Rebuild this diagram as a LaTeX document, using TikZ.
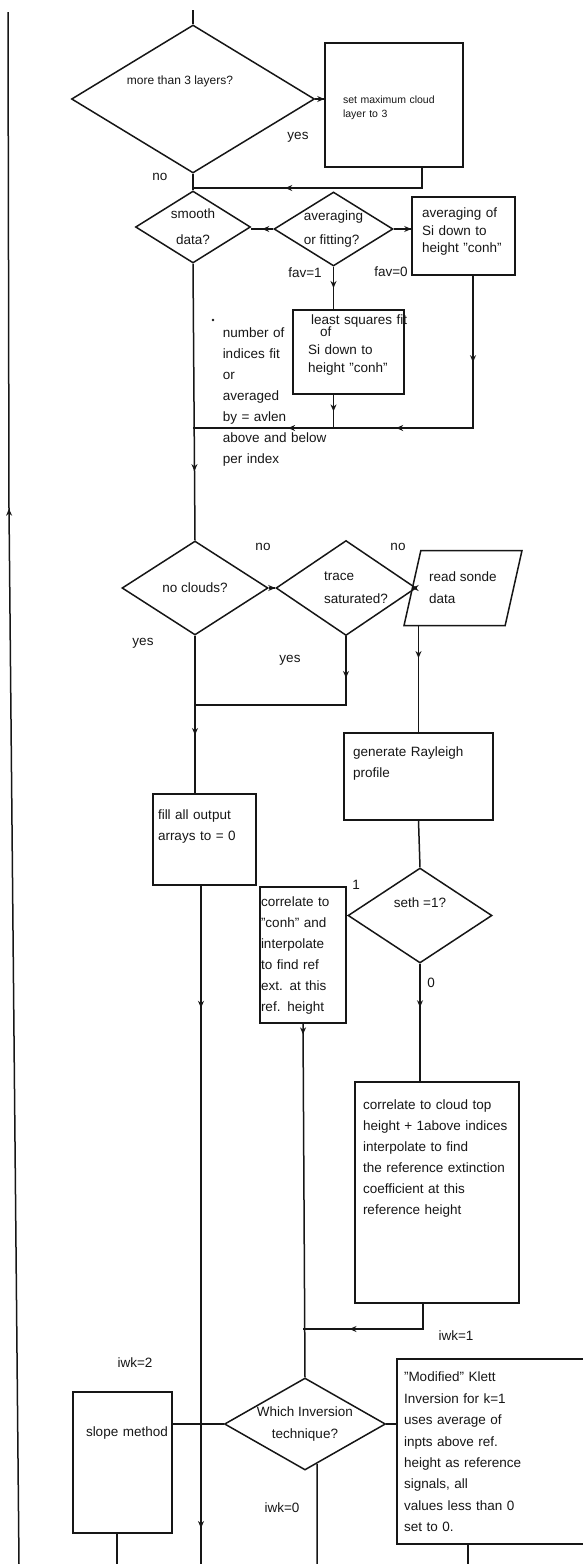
\documentclass[tikz,border=0pt]{standalone}
\usepackage{fontspec}
\setmainfont{Liberation Sans}
\usepackage{tikz}
\usetikzlibrary{shapes.geometric,arrows.meta,decorations.markings,calc}
\definecolor{inkblack}{HTML}{161616}

\tikzset{
  dia/.style={diamond, draw, aspect=1.6, inner sep=-4pt, font=\fontsize{13.5}{21}\selectfont},
  box/.style={rectangle, draw, inner sep=0pt, align=left, font=\fontsize{13.5}{21}\selectfont},
  lbl/.style={inner sep=0pt, font=\fontsize{13.5}{21}\selectfont},
  arrowat/.style={postaction={decorate, decoration={markings,
    mark=at position #1 with {\arrow{Stealth[length=7pt,width=6pt]}}}}}
}

\begin{document}
\begin{tikzpicture}[x=1pt, y=-1pt, line width=1.5pt, color=inkblack]
    \useasboundingbox (0,0) rectangle (582,1564);
    \coordinate (top) at (193,10);
    \coordinate (ltop) at (8,12);
    \coordinate (lkink) at (9,508);
    \coordinate (lbot) at (19,1564);
    \coordinate (meetA) at (193,188);
    \coordinate (meetB) at (193,428);
    \coordinate (meetC) at (195,705);
    \coordinate (meetD) at (303,1329);
    \coordinate (outfill) at (201,1564);
    \coordinate (outslope) at (117,1564);
    \coordinate (outwhich) at (317,1564);
    \coordinate (outklett) at (468,1564);

    \node[dia, minimum width=243pt, minimum height=148pt, font=\fontsize{12}{14}\selectfont,
      text depth=38pt] (layers) at (193,99) {more than 3 layers?\hspace*{26pt}};
    \node[box, minimum width=138pt, minimum height=124pt, text width=102pt, text depth=10pt,
      font=\fontsize{10.5}{13.5}\selectfont] (setmax) at (394,105) {set maximum cloud\\layer to 3};
    \node[dia, minimum width=115pt, minimum height=72pt, align=center,
      font=\fontsize{13.5}{26}\selectfont] (smooth) at (193,227) {smooth\\data?};
    \node[dia, minimum width=119pt, minimum height=74pt, align=left,
      font=\fontsize{13.5}{24}\selectfont] (avgfit) at (333.5,229) {averaging\\or fitting?};
    \node[box, minimum width=103pt, minimum height=78pt, text width=83pt, text depth=46pt,
      font=\fontsize{13.5}{17.5}\selectfont] (avgbox) at (463.5,236) {averaging of\\Si down to\\height "conh"};
    \node[box, minimum width=111pt, minimum height=84pt, text width=81pt, text depth=64pt,
      font=\fontsize{13.5}{18}\selectfont] (lsq) at (348.5,352)
      {\hspace*{3pt}\mbox{least squares fit}\\[-6pt]\hspace*{12pt}of\\Si down to\\height "conh"};
    \fill (213,320) circle (1.3pt);
    \node[lbl, anchor=base west, text width=112pt, align=left] (avlen) at (222,337.6)
      {number of\\indices fit\\or\\averaged\\by = avlen\\above and below\\per index};

    \node[dia, minimum width=146pt, minimum height=94pt] (noclouds) at (195,588) {no clouds?};
    \node[dia, minimum width=140pt, minimum height=95pt, align=left,
      font=\fontsize{13.5}{23}\selectfont] (trace) at (346,588)
      {\hspace*{20pt}trace\\\hspace*{20pt}saturated?};
    \node[trapezium, trapezium left angle=69, trapezium right angle=111, trapezium stretches=true,
      draw, minimum width=118pt, minimum height=75pt, align=left,
      font=\fontsize{13.5}{22}\selectfont] (sonde) at (463,588) {read sonde\\data};
    \node[box, minimum width=149pt, minimum height=87pt, text width=131pt, text depth=49pt]
      (rayleigh) at (418.5,776.5) {generate Rayleigh\\profile};
    \node[box, minimum width=103pt, minimum height=91pt, text width=93pt, text depth=49pt]
      (fillzero) at (204.5,839.5) {fill all output\\arrays to = 0};
    \node[dia, minimum width=144pt, minimum height=95pt, text depth=26pt] (seth) at (420,915.5) {seth =1?};
    \node[box, minimum width=86pt, minimum height=136pt, text width=84pt, text depth=106pt]
      (corrconh) at (303,955) {correlate to\\"conh" and\\interpolate\\to find ref\\ext. at this\\ref. height};
    \node[box, minimum width=164pt, minimum height=221pt, text width=148pt, text depth=175pt]
      (corrcloud) at (437,1192.5) {correlate to cloud top\\height + 1above indices\\interpolate to find\\the reference extinction\\coefficient at this\\reference height};
    \node[dia, minimum width=161pt, minimum height=92pt, align=center,
      font=\fontsize{13.5}{22}\selectfont] (which) at (305,1424) {Which Inversion\\technique?};
    \node[box, minimum width=99pt, minimum height=141pt, text width=73pt, text depth=61pt]
      (slope) at (122.5,1462.5) {\mbox{slope method}};
    \node[box, minimum width=210pt, minimum height=185pt, text width=196pt, text depth=149pt,
      font=\fontsize{13.5}{21.4}\selectfont] (klett) at (502,1451.5)
      {"Modified" Klett\\Inversion for k=1\\uses average of\\inpts above ref.\\height as reference\\signals, all\\values less than 0\\set to 0.};

    \node[lbl] (yes1) at (298,137) {yes};
    \node[lbl] (no1) at (160,177) {no};
    \node[lbl] (fav1) at (305,273) {fav=1};
    \node[lbl] (fav0) at (391,272) {fav=0};
    \node[lbl] (no2) at (263,547) {no};
    \node[lbl] (no3) at (398,547) {no};
    \node[lbl] (yes2) at (143,643) {yes};
    \node[lbl] (yes3) at (290,660) {yes};
    \node[lbl] (seth1) at (356,885) {1};
    \node[lbl] (seth0) at (431,983) {0};
    \node[lbl] (iwk1) at (456,1336) {iwk=1};
    \node[lbl] (iwk2) at (135,1363) {iwk=2};
    \node[lbl] (iwk0) at (282,1508) {iwk=0};

    \draw[arrowat=0.68] (lbot) -- (lkink) -- (ltop);
    \draw (top) -- (layers.north);
    \draw[arrowat=0.999] (layers.east) -- (layers.east -| setmax.west);
    \draw[arrowat=0.63] ([xshift=28pt]setmax.south) |- (meetA);
    \draw (layers.south) -- (smooth.north);
    \draw[arrowat=0.5] (avgfit.west) -- (avgfit.west -| smooth.east);
    \draw[arrowat=0.999] (avgfit.east) -- (avgfit.east -| avgbox.west);
    \draw[arrowat=0.5] (avgfit.south) -- (avgfit.south |- lsq.north);
    \draw[arrowat=0.5] (avgfit.south |- lsq.south) -- (avgfit.south |- meetB);
    \draw[arrowat=0.2, arrowat=0.53, arrowat=0.78] ([xshift=9.5pt]avgbox.south) |- (meetB);
    \draw[arrowat=0.75] (smooth.south) -- (noclouds.north);
    \draw[arrowat=0.999] (noclouds.east) -- (trace.west);
    \draw[arrowat=0.999] (trace.east) -- (sonde.left side);
    \draw[arrowat=0.19] (trace.south) |- (meetC);
    \draw[arrowat=0.63] (noclouds.south) -- (noclouds.south |- fillzero.north);
    \draw[arrowat=0.3] (rayleigh.north |- sonde.south) -- (rayleigh.north);
    \draw (rayleigh.south) -- (seth.north);
    \draw (seth.west) -- (seth.west -| corrconh.east);
    \draw[arrowat=0.37] (seth.south) -- (seth.south |- corrcloud.north);
    \draw[arrowat=0.03] (corrconh.south) -- (which.north);
    \draw[arrowat=0.68] ([xshift=-14pt]corrcloud.south) |- (meetD);
    \draw (which.west) -- (which.west -| slope.east);
    \draw (which.east) -- (which.east -| klett.west);
    \draw[arrowat=0.18, arrowat=0.947] (fillzero.south -| outfill) -- (outfill);
    \draw (slope.south -| outslope) -- (outslope);
    \draw ($(which.south)!0.15!(which.east)$) -- (outwhich);
    \draw (klett.south -| outklett) -- (outklett);
\end{tikzpicture}
\end{document}
